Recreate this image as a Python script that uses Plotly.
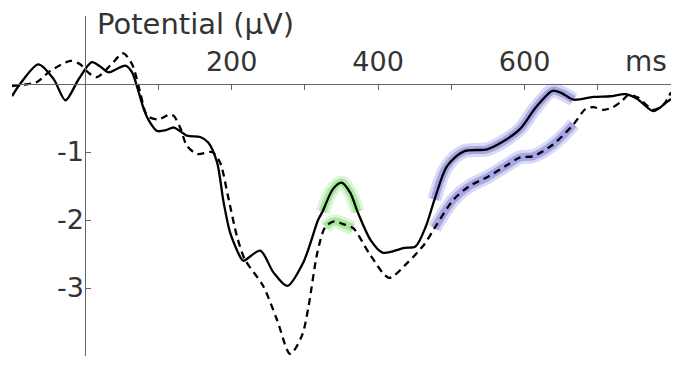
import numpy as np
import plotly.graph_objects as go

# Condition A (solid)
t_solid = [-100, -89, -64, -43, -27, -9, 9, 20, 32, 43, 55, 64, 73, 80, 86, 98, 110, 121, 139, 157, 168,
           180, 189, 198, 212, 216, 239, 257, 276, 298, 318, 324, 338, 350, 362, 372, 390, 406, 420, 436,
           451, 465, 477, 494, 517, 549, 570, 594, 615, 638, 650, 667, 694, 717, 738, 754, 776, 795, 800]
v_solid = [-0.18, 0.0, 0.29, 0.07, -0.24, 0.07, 0.32, 0.26, 0.17, 0.22, 0.27, 0.17, -0.12, -0.37, -0.52,
           -0.69, -0.68, -0.64, -0.76, -0.78, -0.86, -1.15, -1.74, -2.19, -2.55, -2.6, -2.45, -2.77, -2.97,
           -2.62, -2.0, -1.88, -1.55, -1.45, -1.6, -1.88, -2.3, -2.48, -2.46, -2.41, -2.39, -2.1, -1.7,
           -1.21, -0.99, -0.96, -0.85, -0.66, -0.35, -0.10, -0.13, -0.23, -0.19, -0.18, -0.15, -0.22,
           -0.40, -0.26, -0.22]

# Condition B (dashed)
t_dash = [-100, -66, -48, -20, -7, 4, 16, 34, 52, 64, 68, 75, 85, 100, 115, 121, 130, 139, 153, 173, 184,
          195, 207, 218, 243, 262, 280, 296, 305, 317, 328, 340, 352, 366, 389, 415, 440, 463, 477, 503,
          525, 549, 575, 594, 612, 639, 667, 683, 694, 708, 721, 733, 742, 755, 776, 790, 800]
v_dash = [-0.03, 0.03, 0.19, 0.34, 0.29, 0.17, 0.10, 0.27, 0.45, 0.29, 0.17, -0.12, -0.47, -0.52, -0.45,
          -0.47, -0.65, -0.91, -1.03, -1.0, -1.15, -1.65, -2.23, -2.58, -2.97, -3.47, -3.97, -3.7, -3.27,
          -2.48, -2.1, -2.02, -2.06, -2.12, -2.51, -2.85, -2.63, -2.36, -2.12, -1.7, -1.5, -1.37, -1.2,
          -1.08, -1.06, -0.89, -0.59, -0.37, -0.34, -0.38, -0.34, -0.25, -0.16, -0.2, -0.38, -0.3, -0.12]

# Significant windows (ms)
green_solid_win = (324, 372)
green_dash_win = (328, 366)
blue_win = (477, 667)

x_ticks = [100, 200, 300, 400, 500, 600, 700, 800]
x_ticktext = ["", "200", "", "400", "", "600", "", ""]
y_ticks = [-4, -3, -2, -1, 1]
y_ticktext = ["", "-3", "-2", "-1", ""]

XMIN, XMAX = -100, 800
YMIN, YMAX = -4, 1

FONT = "DejaVu Sans"


def window(t, v, win):
    t = np.asarray(t)
    v = np.asarray(v)
    m = (t >= win[0]) & (t <= win[1])
    return t[m], v[m]


fig = go.Figure()

def glow(t, v, win, rgb):
    tw, vw = window(t, v, win)
    fig.add_trace(go.Scatter(x=tw, y=vw, mode="lines", line=dict(color=f"rgba({rgb},0.25)", width=14, shape="spline"),
                             hoverinfo="skip", showlegend=False))
    fig.add_trace(go.Scatter(x=tw, y=vw, mode="lines", line=dict(color=f"rgba({rgb},0.45)", width=8, shape="spline"),
                             hoverinfo="skip", showlegend=False))

glow(t_solid, v_solid, green_solid_win, "110,215,90")
glow(t_dash, v_dash, green_dash_win, "110,215,90")
glow(t_solid, v_solid, blue_win, "105,105,215")
glow(t_dash, v_dash, blue_win, "105,105,215")

fig.add_trace(go.Scatter(x=t_dash, y=v_dash, mode="lines",
                         line=dict(color="black", width=2.3, dash="7px,5px", shape="spline", smoothing=0.8),
                         showlegend=False))
fig.add_trace(go.Scatter(x=t_solid, y=v_solid, mode="lines",
                         line=dict(color="black", width=2.3, shape="spline", smoothing=0.8),
                         showlegend=False))

fig.add_annotation(x=14, y=0.88, xref="x", yref="y", text="Potential (μV)", showarrow=False,
                   xanchor="left", yanchor="middle", font=dict(family=FONT, size=29, color="#333333"))
fig.add_annotation(x=797, y=0.33, xref="x", yref="y", text="ms", showarrow=False,
                   xanchor="right", yanchor="middle", font=dict(family=FONT, size=28, color="#333333"))

fig.update_layout(
    width=677, height=366,
    margin=dict(l=12, r=6, t=16, b=10),
    paper_bgcolor="white", plot_bgcolor="white",
    xaxis=dict(range=[XMIN, XMAX], anchor="free", position=(0 - YMIN) / (YMAX - YMIN), side="top",
               showline=True, linecolor="#666666", linewidth=1, showgrid=False, zeroline=False,
               tickmode="array", tickvals=x_ticks, ticktext=x_ticktext, ticks="inside", ticklen=5,
               tickcolor="#666666", tickfont=dict(family=FONT, size=27, color="#333333"),
               ticklabelstandoff=2, automargin=False),
    yaxis=dict(range=[YMIN, YMAX], anchor="free", position=(0 - XMIN) / (XMAX - XMIN), side="left",
               showline=True, linecolor="#666666", linewidth=1, showgrid=False, zeroline=False,
               tickmode="array", tickvals=y_ticks, ticktext=y_ticktext, ticks="inside", ticklen=5,
               tickcolor="#666666", tickfont=dict(family=FONT, size=27, color="#333333"),
               ticklabelstandoff=-4, automargin=False),
)

fig.write_html("out.html", config={"displayModeBar": False},
               post_script="document.body.style.margin='0';")
